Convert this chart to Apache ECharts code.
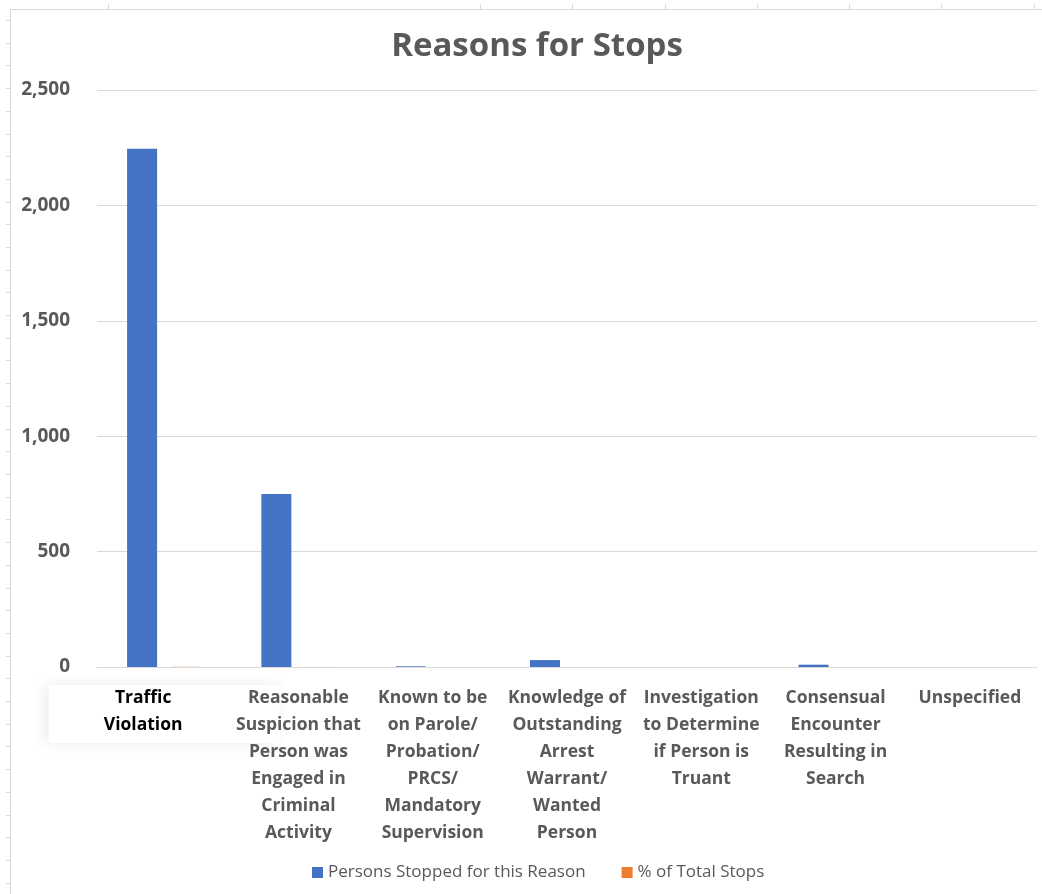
<!DOCTYPE html>
<html>
<head>
<meta charset="utf-8">
<script src="https://cdn.jsdelivr.net/npm/echarts@6/dist/echarts.min.js"></script>
<style>
  html, body { margin: 0; padding: 0; background: #fff; }
  #chart { width: 1042px; height: 894px; }
</style>
</head>
<body>
<div id="chart"></div>
<script>
// categories (line breaks as in the original chart)
const reasons = [
  "Traffic\nViolation",
  "Reasonable\nSuspicion that\nPerson was\nEngaged in\nCriminal\nActivity",
  "Known to be\non Parole/\nProbation/\nPRCS/\nMandatory\nSupervision",
  "Knowledge of\nOutstanding\nArrest\nWarrant/\nWanted\nPerson",
  "Investigation\nto Determine\nif Person is\nTruant",
  "Consensual\nEncounter\nResulting in\nSearch",
  "Unspecified"
];
const personsStopped = [2245, 750, 3, 30, 0, 10, 0];
const pctOfTotal = [0.739, 0.247, 0.001, 0.01, 0, 0.003, 0];
const yTicks = [0, 500, 1000, 1500, 2000, 2500];

const txt = "#595959";
const font = "'Open Sans', sans-serif";

let chart = echarts.init(document.getElementById("chart"));

// spreadsheet frame behind the chart
let frame = [
  { type: "line", shape: { x1: 10, y1: 9.5, x2: 1042, y2: 9.5 }, style: { stroke: "#d9d9d9", lineWidth: 1 } },
  { type: "line", shape: { x1: 10.5, y1: 9, x2: 10.5, y2: 894 }, style: { stroke: "#d9d9d9", lineWidth: 1 } }
];
for (let y = 20; y < 894; y += 22.7) {
  frame.push({ type: "line", shape: { x1: 6, y1: Math.round(y) + 0.5, x2: 10, y2: Math.round(y) + 0.5 }, style: { stroke: "#d9d9d9", lineWidth: 1 } });
}
[108, 480, 572, 665, 757, 849, 941, 1034].forEach(function (x) {
  frame.push({ type: "line", shape: { x1: x + 0.5, y1: 4, x2: x + 0.5, y2: 9 }, style: { stroke: "#d9d9d9", lineWidth: 1 } });
});

let option = {
  backgroundColor: "#fff",
  animation: false,
  graphic: frame,
  title: {
    text: "Reasons for Stops",
    left: 532,
    textAlign: "center",
    top: 25,
    textStyle: { color: txt, fontSize: 33, fontWeight: "bold", fontFamily: font }
  },
  legend: {
    left: 307,
    bottom: 8,
    icon: "rect",
    itemWidth: 11,
    itemHeight: 11,
    itemGap: 36,
    textStyle: { color: txt, fontSize: 17, fontFamily: font },
    data: ["Persons Stopped for this Reason", "% of Total Stops"]
  },
  grid: { left: 97, right: 5, top: 90, bottom: 227, containLabel: false },
  xAxis: {
    type: "category",
    data: reasons.map(function (r, i) {
      if (i === 0) {
        return {
          value: r,
          textStyle: {
            color: "#000",
            backgroundColor: "#fff",
            padding: [0, 97, 4, 55],
            shadowBlur: 14,
            shadowOffsetX: -4,
            shadowColor: "rgba(0,0,0,0.08)"
          }
        };
      }
      return r;
    }),
    axisLine: { lineStyle: { color: "#d9d9d9", width: 1 } },
    axisTick: { show: false },
    axisLabel: {
      interval: 0,
      margin: 18,
      color: txt,
      fontSize: 17.5,
      fontWeight: "bold",
      lineHeight: 27,
      fontFamily: font
    }
  },
  yAxis: {
    type: "value",
    min: yTicks[0],
    max: yTicks[yTicks.length - 1],
    interval: 500,
    axisLine: { show: false },
    axisTick: { show: false },
    splitLine: { lineStyle: { color: "#d9d9d9", width: 1 } },
    axisLabel: {
      margin: 27,
      color: txt,
      fontSize: 19,
      fontWeight: "bold",
      fontFamily: font,
      formatter: function (v) { return v.toLocaleString("en-US"); }
    }
  },
  series: [
    {
      name: "Persons Stopped for this Reason",
      type: "bar",
      data: personsStopped,
      barWidth: 30,
      barGap: "47%",
      itemStyle: { color: "#4472C4" }
    },
    {
      name: "% of Total Stops",
      type: "bar",
      data: pctOfTotal,
      barWidth: 30,
      itemStyle: { color: "#ED7D31" }
    }
  ]
};

chart.setOption(option);
</script>
</body>
</html>
